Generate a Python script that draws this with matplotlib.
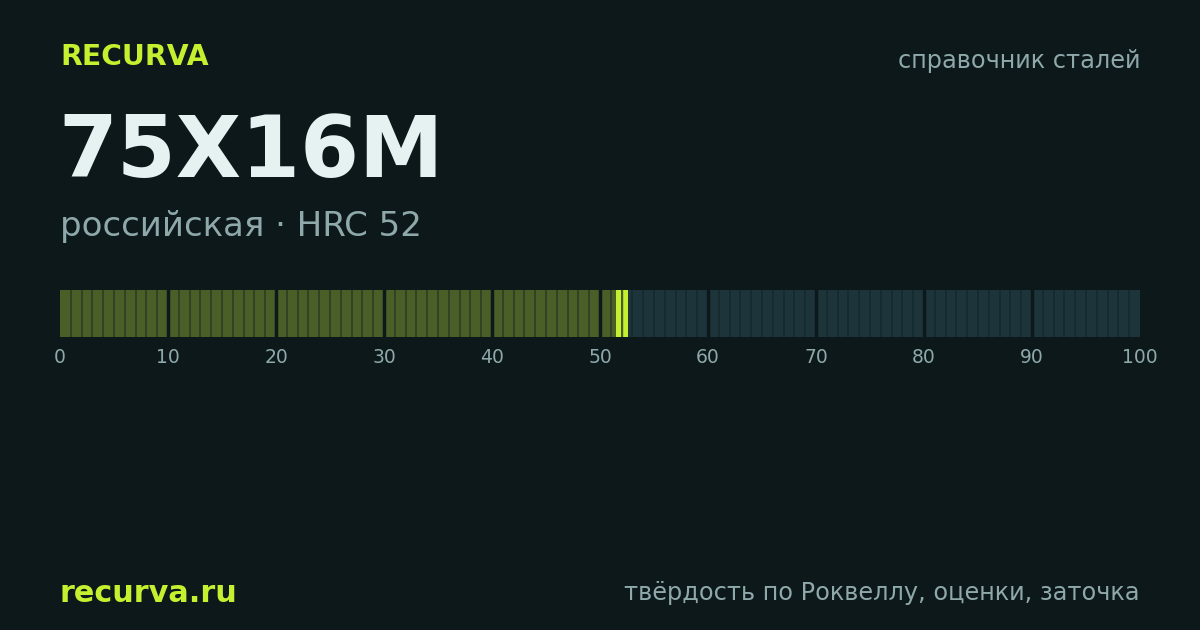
import matplotlib
matplotlib.use("Agg")
import matplotlib.pyplot as plt
from matplotlib.patches import Rectangle

brand = "RECURVA"
title = "75Х16М"
subtitle = "российская · HRC 52"
top_right = "справочник сталей"
footer_left = "recurva.ru"
footer_right = "твёрдость по Роквеллу, оценки, заточка"
hrc = 52
scale_min, scale_max = 0, 100
ticks = [0, 10, 20, 30, 40, 50, 60, 70, 80, 90, 100]

BG = "#0c181a"
LIME = "#c5f02f"
fig = plt.figure(figsize=(12, 6.3), dpi=100, facecolor=BG)
plt.rcParams['font.family'] = ['DejaVu Sans']

fig.text(60/1200, 1-57/630, brand, color=LIME, fontsize=20.3, fontweight="bold", va="center")
fig.text(1140/1200, 1-61/630, top_right, color="#8fa9ab", fontsize=17.3, ha="right", va="center")
fig.text(58/1200, 1-153/630, title, color="#e6f2f2", fontsize=61, fontweight="bold", va="center")
fig.text(60/1200, 1-226/630, subtitle, color="#8fa9ab", fontsize=24.5, va="center")
fig.text(60/1200, 1-593/630, footer_left, color=LIME, fontsize=21.8, fontweight="bold", va="center")
fig.text(1140/1200, 1-593/630, footer_right, color="#8fa9ab", fontsize=17.25, ha="right", va="center")

ax = fig.add_axes([60/1200, 1-337/630, 1080/1200, 47/630])
ax.set_xlim(scale_min, scale_max)
ax.set_ylim(0, 1)
ax.set_facecolor(BG)
ax.add_patch(Rectangle((0, 0), 100, 1, color="#1d343a", lw=0))
ax.add_patch(Rectangle((0, 0), hrc, 1, color="#4a5f27", lw=0))
ax.add_patch(Rectangle((hrc - 0.5, 0), 1.1, 1, color=LIME, lw=0))
for i in range(1, 100):
    if i % 10 == 0:
        ax.axvline(i, color=BG, lw=2.5)
    else:
        ax.axvline(i, color="#142a2c" if i > hrc else "#2e3d22", lw=1.2)
ax.axvline(hrc, color="#4a5f27", lw=1)
for s in ax.spines.values():
    s.set_visible(False)
ax.set_yticks([])
ax.set_xticks(ticks)
ax.tick_params(axis="x", length=0, colors="#8fa9ab", labelsize=13.5, pad=8)
fig.savefig("out.png", dpi=100, facecolor=BG)
